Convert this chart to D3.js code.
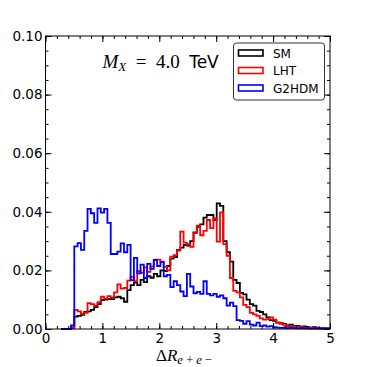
<!DOCTYPE html>
<html lang="en">
<head>
<meta charset="UTF-8">
<title>Delta R histogram</title>
<script src="https://cdnjs.cloudflare.com/ajax/libs/d3/7.8.5/d3.min.js"></script>
<style>
  body { margin: 0; background: #fff; }
  svg { display: block; font-family: "DejaVu Sans", sans-serif; }
</style>
</head>
<body>

<svg width="367" height="367"></svg>

<script>
    // histogram binning (Delta R)
    var binStart = 0.2734,
        binWidth = 0.0582;

    var smValues = [0, 0, 0,
        0.0005, 0.0042, 0.0045, 0.0048, 0.0058, 0.0060, 0.0065, 0.0075, 0.0085, 0.0099,
        0.0100, 0.0103, 0.0102, 0.0108, 0.0110, 0.0105, 0.0093, 0.0133, 0.0150, 0.0158,
        0.0150, 0.0168, 0.0160, 0.0180, 0.0175, 0.0188, 0.0180, 0.0200, 0.0198, 0.0215,
        0.0240, 0.0245, 0.0270, 0.0278, 0.0287, 0.0285, 0.0300, 0.0330, 0.0349, 0.0357,
        0.0380, 0.0389, 0.0389, 0.0372, 0.0429, 0.0420, 0.0300, 0.0262, 0.0230, 0.0168,
        0.0157, 0.0123, 0.0118, 0.0100, 0.0085, 0.0080, 0.0062, 0.0058, 0.0050, 0.0040,
        0.0030, 0.0028, 0.0022, 0.0020, 0.0017, 0.0012, 0.0015, 0.0010, 0.0011, 0.0008,
        0.0009, 0.0006, 0.0005, 0.0006, 0.0004, 0.0003, 0.0003, 0.0002];

    var lhtValues = [0, 0, 0,
        0.0003, 0.0065, 0.0060, 0.0052, 0.0055, 0.0088, 0.0085, 0.0080, 0.0092, 0.0110,
        0.0104, 0.0112, 0.0108, 0.0125, 0.0152, 0.0138, 0.0140, 0.0165, 0.0178, 0.0163,
        0.0198, 0.0192, 0.0210, 0.0195, 0.0214, 0.0237, 0.0237, 0.0230, 0.0212, 0.0200,
        0.0247, 0.0252, 0.0268, 0.0332, 0.0295, 0.0290, 0.0280, 0.0327, 0.0353, 0.0320,
        0.0335, 0.0372, 0.0344, 0.0378, 0.0298, 0.0398, 0.0290, 0.0250, 0.0174, 0.0130,
        0.0125, 0.0108, 0.0082, 0.0075, 0.0055, 0.0050, 0.0045, 0.0036, 0.0032, 0.0034,
        0.0040, 0.0032, 0.0022, 0.0018, 0.0014, 0.0010, 0.0009, 0.0008, 0.0007, 0.0006,
        0.0005, 0.0005, 0.0004, 0.0003, 0.0003, 0.0002, 0.0002, 0.0001];

    var g2hdmValues = [0, 0, 0,
        0.0012, 0.0282, 0.0293, 0.0270, 0.0335, 0.0410, 0.0395, 0.0362, 0.0412, 0.0397,
        0.0410, 0.0362, 0.0256, 0.0256, 0.0264, 0.0292, 0.0262, 0.0287, 0.0167, 0.0243,
        0.0190, 0.0220, 0.0174, 0.0222, 0.0205, 0.0235, 0.0215, 0.0228, 0.0180, 0.0185,
        0.0143, 0.0163, 0.0150, 0.0128, 0.0112, 0.0188, 0.0145, 0.0122, 0.0127, 0.0120,
        0.0163, 0.0120, 0.0115, 0.0120, 0.0110, 0.0115, 0.0105, 0.0080, 0.0090, 0.0078,
        0.0030, 0.0028, 0.0018, 0.0027, 0.0015, 0.0012, 0.0022, 0.0010, 0.0012, 0.0008,
        0.0010, 0.0006, 0.0005, 0.0004, 0.0005, 0.0003, 0.0004, 0.0003, 0.0002, 0.0003,
        0.0002, 0.0002, 0.0001, 0.0002, 0.0001, 0.0001, 0.0001, 0.0001];

    var seriesNames = ["SM", "LHT", "G2HDM"];
    var seriesColors = ["#000000", "#ff0000", "#0000ff"];

    var xTicks = [0, 1, 2, 3, 4, 5],
        xMinorTicks = d3.range(0, 5.001, 0.2),
        yTicks = [0, 0.02, 0.04, 0.06, 0.08, 0.10],
        yTickLabels = ["0.00", "0.02", "0.04", "0.06", "0.08", "0.10"],
        yMinorTicks = d3.range(0, 0.1001, 0.005);

    var svg = d3.select("svg"),
        margin = {top: 36, right: 37, bottom: 38, left: 45.5},
        width = +svg.attr("width") - margin.left - margin.right,
        height = +svg.attr("height") - margin.top - margin.bottom;

    var g = svg.append("g")
        .attr("transform", "translate(" + margin.left + "," + margin.top + ")");

    var x = d3.scaleLinear().domain([0, 5]).range([0, width]);
    var y = d3.scaleLinear().domain([0, 0.1]).range([height, 0]);

    // step outline of a histogram
    function stepPoints(values) {
        var pts = [[binStart, 0]];
        values.forEach(function(v, i) {
            pts.push([binStart + i * binWidth, v]);
            pts.push([binStart + (i + 1) * binWidth, v]);
        });
        pts.push([binStart + values.length * binWidth, 0]);
        return pts;
    }

    var line = d3.line()
        .x(function(d) { return x(d[0]); })
        .y(function(d) { return y(d[1]); });

    var plot = g.append("g");
    [smValues, lhtValues, g2hdmValues].forEach(function(vals, i) {
        plot.append("path")
            .attr("d", line(stepPoints(vals)))
            .attr("fill", "none")
            .attr("stroke", seriesColors[i])
            .attr("stroke-width", 1.8)
            .attr("stroke-linejoin", "miter");
    });

    // axes, ticks pointing in on all four sides
    function styleAxis(sel) {
        sel.select(".domain").remove();
        sel.selectAll("line").attr("stroke", "#000").attr("stroke-width", 1);
        sel.selectAll("text").attr("fill", "#000").style("font-size", "13.5px")
            .style("font-family", "'DejaVu Sans', sans-serif");
    }

    g.append("g").attr("transform", "translate(0," + height + ")")
        .call(d3.axisBottom(x).tickValues(xTicks).tickSize(-6).tickPadding(4)
            .tickFormat(d3.format("d")))
        .call(styleAxis);
    g.append("g").attr("transform", "translate(0," + height + ")")
        .call(d3.axisBottom(x).tickValues(xMinorTicks).tickSize(-3).tickFormat(""))
        .call(styleAxis);
    g.append("g")
        .call(d3.axisTop(x).tickValues(xTicks).tickSize(-6).tickFormat(""))
        .call(styleAxis);
    g.append("g")
        .call(d3.axisTop(x).tickValues(xMinorTicks).tickSize(-3).tickFormat(""))
        .call(styleAxis);

    g.append("g")
        .call(d3.axisLeft(y).tickValues(yTicks).tickSize(-6).tickPadding(3)
            .tickFormat(function(d, i) { return yTickLabels[i]; }))
        .call(styleAxis);
    g.append("g")
        .call(d3.axisLeft(y).tickValues(yMinorTicks).tickSize(-3).tickFormat(""))
        .call(styleAxis);
    g.append("g").attr("transform", "translate(" + width + ",0)")
        .call(d3.axisRight(y).tickValues(yTicks).tickSize(-6).tickFormat(""))
        .call(styleAxis);
    g.append("g").attr("transform", "translate(" + width + ",0)")
        .call(d3.axisRight(y).tickValues(yMinorTicks).tickSize(-3).tickFormat(""))
        .call(styleAxis);

    g.append("rect")
        .attr("width", width)
        .attr("height", height)
        .attr("fill", "none")
        .attr("stroke", "#000")
        .attr("stroke-width", 1);

    // annotation M_X = 4.0 TeV
    var ann = g.append("text")
        .attr("x", x(1.0))
        .attr("y", 31.5)
        .style("font-size", "19px")
        .attr("fill", "#000");
    ann.append("tspan").style("font-family", "'Liberation Serif', serif")
        .style("font-style", "italic").text("M");
    ann.append("tspan").style("font-family", "'Liberation Serif', serif")
        .style("font-style", "italic").style("font-size", "13px")
        .attr("dy", 3).text("X");
    ann.append("tspan").style("font-family", "'Liberation Serif', serif")
        .attr("dy", -3).text("\u2002=\u20024.0\u2002");
    ann.append("tspan").style("font-family", "'DejaVu Sans', sans-serif")
        .style("font-size", "17px").text("TeV");

    // x label
    var xl = svg.append("text")
        .attr("x", 156)
        .attr("y", 361)
        .style("font-family", "'Liberation Serif', serif")
        .style("font-size", "17px")
        .attr("fill", "#000");
    xl.append("tspan").text("\u0394");
    xl.append("tspan").style("font-style", "italic").text("R");
    xl.append("tspan").style("font-style", "italic").style("font-size", "12.5px")
        .attr("dy", 3).text("e\u2009+\u2009e\u2009\u2212");

    // legend
    var leg = g.append("g").attr("transform", "translate(" + (233.5 - margin.left) + "," + (43 - margin.top) + ")");
    leg.append("rect")
        .attr("width", 91)
        .attr("height", 57)
        .attr("rx", 3)
        .attr("fill", "#fff")
        .attr("stroke", "#333")
        .attr("stroke-width", 1);
    seriesNames.forEach(function(name, i) {
        var row = leg.append("g").attr("transform", "translate(0," + (10 + i * 17.5) + ")");
        row.append("rect")
            .attr("x", 5)
            .attr("y", -3)
            .attr("width", 24.5)
            .attr("height", 6)
            .attr("fill", "none")
            .attr("stroke", seriesColors[i])
            .attr("stroke-width", 1.6);
        row.append("text")
            .attr("x", 39.5)
            .attr("y", 4.5)
            .style("font-size", "12px")
            .attr("fill", "#000")
            .text(name);
    });
</script>

</body>
</html>
